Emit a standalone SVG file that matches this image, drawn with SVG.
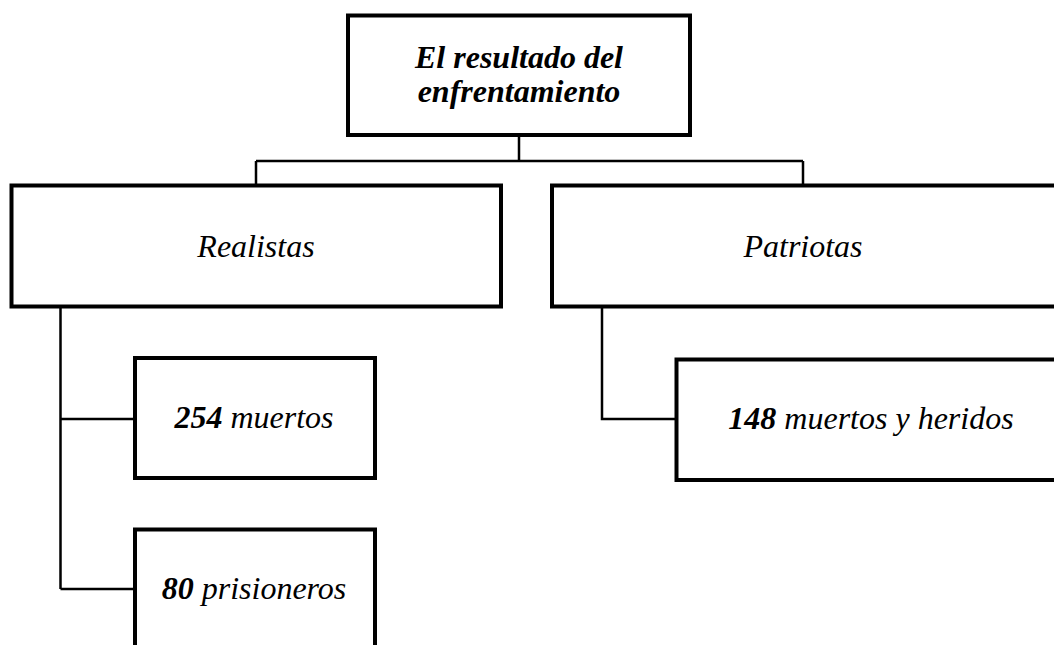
<svg xmlns="http://www.w3.org/2000/svg" width="1054" height="645" viewBox="0 0 1054 645">
<style>
.box{fill:#fff;stroke:#000;stroke-width:4}
.con{fill:none;stroke:#000;stroke-width:2.5}
text{font-family:"Liberation Serif","Times New Roman",serif;font-size:32px;font-style:italic;fill:#000;text-anchor:middle}
.b{font-weight:bold}
</style>
<rect width="1054" height="645" fill="#fff"/>
<g id="connectors">
<path class="con" d="M519,135 V161 M256,161 H803 M256,161 V185 M803,161 V185"/>
<path class="con" d="M60.5,307 V589 M60.5,419 H135 M60.5,589 H135"/>
<path class="con" d="M602,307 V419 H676"/>
</g>
<g id="node-root">
<rect class="box" x="348" y="15.5" width="342" height="119.5"/>
<text class="b" x="519" y="67.5">El resultado del</text>
<text class="b" x="519" y="102">enfrentamiento</text>
</g>
<g id="node-realistas">
<rect class="box" x="11.5" y="185.5" width="489.5" height="121"/>
<text x="256" y="257">Realistas</text>
</g>
<g id="node-patriotas">
<rect class="box" x="552" y="185.5" width="510" height="121"/>
<text x="803" y="257">Patriotas</text>
</g>
<g id="node-254">
<rect class="box" x="135" y="358" width="240" height="120"/>
<text x="254" y="427.5"><tspan class="b">254</tspan> muertos</text>
</g>
<g id="node-80">
<rect class="box" x="135" y="529.5" width="240" height="130"/>
<text x="254" y="599"><tspan class="b">80</tspan> prisioneros</text>
</g>
<g id="node-148">
<rect class="box" x="676.5" y="359.5" width="390" height="120.5"/>
<text x="871" y="429"><tspan class="b">148</tspan> muertos y heridos</text>
</g>
</svg>
